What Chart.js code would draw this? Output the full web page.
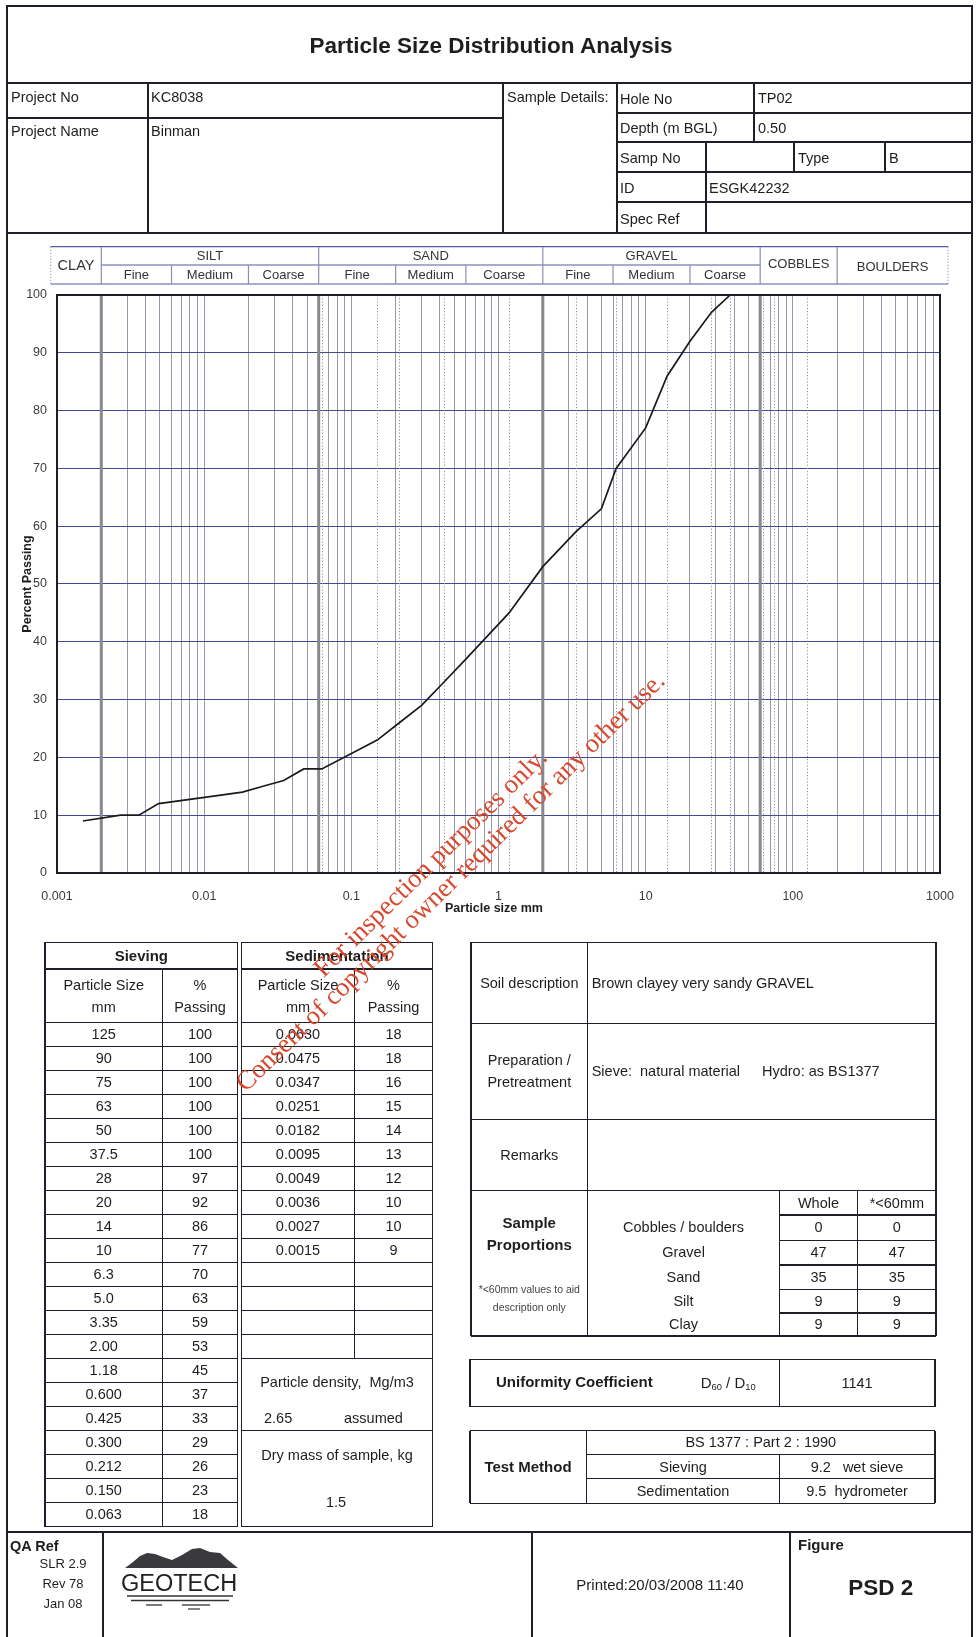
<!DOCTYPE html>
<html>
<head>
<meta charset="utf-8">
<title>Particle Size Distribution Analysis</title>
<script src="https://cdn.jsdelivr.net/npm/chart.js@4.4.1/dist/chart.umd.min.js"></script>
<style>
  html, body { margin: 0; padding: 0; background: #fff; }
  #page { position: relative; width: 977px; height: 1637px; overflow: hidden; background: #fff;
          font-family: "Liberation Sans", Arial, sans-serif; color: #1e1e1e; }
  .ln { position: absolute; }
  .tx { position: absolute; white-space: pre; }
  .tx sub { font-size: 0.62em; vertical-align: -0.25em; line-height: 0; }
  #psd { position: absolute; left: 0; top: 233px; }
  #art { position: absolute; left: 0; top: 0; }
  .wm { position: absolute; white-space: nowrap; text-align: center; color: #d8482e;
        font-family: "Liberation Serif", "Times New Roman", serif; transform-origin: 50% 50%; }
</style>
</head>
<body>
<div id="page">
  <canvas id="psd" width="977" height="700"></canvas>
  <svg id="art" width="977" height="1637"></svg>
</div>
<script>
// ---------- test results ----------
// Sieve analysis (BS 1377-2 cl. 9.2, wet sieve)
const sieveSize    = ['125','90','75','63','50','37.5','28','20','14','10','6.3','5.0','3.35','2.00','1.18','0.600','0.425','0.300','0.212','0.150','0.063'];
const sievePassing = [100, 100, 100, 100, 100, 100, 97, 92, 86, 77, 70, 63, 59, 53, 45, 37, 33, 29, 26, 23, 18];
// Sedimentation (BS 1377-2 cl. 9.5, hydrometer)
const sedSize    = ['0.0630','0.0475','0.0347','0.0251','0.0182','0.0095','0.0049','0.0036','0.0027','0.0015'];
const sedPassing = [18, 18, 16, 15, 14, 13, 12, 10, 10, 9];

// ---------- axes ----------
const xTickLabels = ['0.001','0.01','0.1','1','10','100','1000'];
const yTickStep = 10;

// ---------- soil fraction bands ----------
const mainBands    = ['SILT','SAND','GRAVEL'];
const mainEdges    = [0.002, 0.06, 2, 60];
const subBandNames = ['Fine','Medium','Coarse'];
const subEdges     = [0.002, 0.006, 0.02, 0.06, 0.2, 0.6, 2, 6, 20, 60];
const cobbleEdge   = 200;

// ---------- sample proportions (%) ----------
const fractionNames   = ['Cobbles / boulders','Gravel','Sand','Silt','Clay'];
const fractionWhole   = [0, 47, 35, 9, 9];
const fractionUnder60 = [0, 47, 35, 9, 9];

// ---------- page helpers ----------
const page = document.getElementById('page');
const INK = '#1d1f2b';

function hl(x1, x2, y, w, c) {
  w = w || 1.6;
  const d = document.createElement('div');
  d.className = 'ln';
  d.style.left = x1 + 'px'; d.style.top = (y - w / 2) + 'px';
  d.style.width = (x2 - x1) + 'px'; d.style.height = w + 'px';
  d.style.background = c || INK;
  page.appendChild(d);
}
function vl(x, y1, y2, w, c) {
  w = w || 1.6;
  const d = document.createElement('div');
  d.className = 'ln';
  d.style.left = (x - w / 2) + 'px'; d.style.top = y1 + 'px';
  d.style.width = w + 'px'; d.style.height = (y2 - y1) + 'px';
  d.style.background = c || INK;
  page.appendChild(d);
}
function rect(x1, y1, x2, y2, w) {
  hl(x1, x2, y1, w); hl(x1, x2, y2, w); vl(x1, y1, y2, w); vl(x2, y1, y2, w);
}
function tx(s, x, y, o) {
  o = o || {};
  const size = o.size || 14.5;
  const lh = Math.round(size * 1.3);
  const d = document.createElement('div');
  d.className = 'tx';
  if (o.html) d.innerHTML = s; else d.textContent = s;
  d.style.fontSize = size + 'px';
  d.style.lineHeight = lh + 'px';
  d.style.height = lh + 'px';
  d.style.top = (y - lh / 2) + 'px';
  if (o.bold) d.style.fontWeight = 'bold';
  if (o.color) d.style.color = o.color;
  const align = o.align || 'left';
  if (align === 'left') {
    d.style.left = x + 'px';
  } else if (align === 'center') {
    d.style.left = (x - 300) + 'px'; d.style.width = '600px'; d.style.textAlign = 'center';
  } else {
    d.style.left = (x - 600) + 'px'; d.style.width = '600px'; d.style.textAlign = 'right';
  }
  page.appendChild(d);
  return d;
}

// ---------- outer frame ----------
vl(7, 5, 1637, 2.6); vl(972, 5, 1637, 2.6); hl(6, 973, 6, 2.6);

// ---------- title block ----------
tx('Particle Size Distribution Analysis', 491, 45, { size: 22.5, bold: true, align: 'center' });
hl(7, 972, 83, 2); hl(7, 972, 233, 2);
vl(148, 83, 233); vl(503, 83, 233); vl(617, 83, 233);
hl(7, 503, 118);
[113, 142, 172, 202].forEach(y => hl(617, 972, y));
vl(754, 83, 142); vl(706, 142, 233); vl(794, 142, 172); vl(885, 142, 172);

tx('Project No', 11, 97);      tx('KC8038', 151, 97);
tx('Project Name', 11, 131);   tx('Binman', 151, 131);
tx('Sample Details:', 507, 97);
tx('Hole No', 620, 99);        tx('TP02', 758, 98);
tx('Depth (m BGL)', 620, 128); tx('0.50', 758, 128);
tx('Samp No', 620, 158);       tx('Type', 798, 158);  tx('B', 889, 158);
tx('ID', 620, 188);            tx('ESGK42232', 709, 188);
tx('Spec Ref', 620, 219);

// ---------- sieving / sedimentation tables ----------
const tTop = 942.3, tHead = 969, tSub = 1022.7, rowH = 24;
const tBot = tSub + sieveSize.length * rowH;
rect(45, tTop, 237.7, tBot);
hl(45, 237.7, tHead); hl(45, 237.7, tSub);
vl(162.3, tHead, tBot);
for (let i = 1; i < sieveSize.length; i++) hl(45, 237.7, tSub + i * rowH);
tx('Sieving', 141.3, 955.6, { bold: true, size: 15, align: 'center' });
tx('Particle Size', 103.7, 985, { align: 'center' });
tx('mm', 103.7, 1007, { align: 'center' });
tx('%', 200, 985, { align: 'center' });
tx('Passing', 200, 1007, { align: 'center' });
sieveSize.forEach((s, i) => {
  const yc = tSub + i * rowH + rowH / 2;
  tx(s, 103.7, yc, { align: 'center' });
  tx(String(sievePassing[i]), 200, yc, { align: 'center' });
});

const sedRows = 14;
const sedSplitBot = tSub + sedRows * rowH;
rect(241.7, tTop, 432.7, tBot);
hl(241.7, 432.7, tHead); hl(241.7, 432.7, tSub);
vl(354.3, tHead, sedSplitBot);
for (let i = 1; i <= sedRows; i++) hl(241.7, 432.7, tSub + i * rowH);
hl(241.7, 432.7, tSub + 17 * rowH);
tx('Sedimentation', 337, 955.6, { bold: true, size: 15, align: 'center' });
tx('Particle Size', 298, 985, { align: 'center' });
tx('mm', 298, 1007, { align: 'center' });
tx('%', 393.5, 985, { align: 'center' });
tx('Passing', 393.5, 1007, { align: 'center' });
sedSize.forEach((s, i) => {
  const yc = tSub + i * rowH + rowH / 2;
  tx(s, 298, yc, { align: 'center' });
  tx(String(sedPassing[i]), 393.5, yc, { align: 'center' });
});
tx('Particle density,  Mg/m3', 337, 1382, { align: 'center' });
tx('2.65', 264, 1418);
tx('assumed', 344, 1418);
tx('Dry mass of sample, kg', 337, 1455, { align: 'center' });
tx('1.5', 336, 1502, { align: 'center' });

// ---------- description / proportions ----------
rect(471, tTop, 936, 1336);
vl(587.7, tTop, 1336);
[1023.3, 1119.3, 1190.7].forEach(y => hl(471, 936, y));
vl(779.3, 1190.7, 1336); vl(857.7, 1190.7, 1336);
const propLines = [1215, 1240.7, 1265, 1289.7, 1313];
propLines.forEach(y => hl(779.3, 936, y));
tx('Soil description', 529.3, 983, { align: 'center' });
tx('Brown clayey very sandy GRAVEL', 591.7, 983);
tx('Preparation /', 529.3, 1060, { align: 'center' });
tx('Pretreatment', 529.3, 1082, { align: 'center' });
tx('Sieve:  natural material', 591.7, 1071);
tx('Hydro: as BS1377', 762, 1071);
tx('Remarks', 529.3, 1155, { align: 'center' });
tx('Sample', 529.3, 1222.5, { bold: true, size: 15, align: 'center' });
tx('Proportions', 529.3, 1245, { bold: true, size: 15, align: 'center' });
tx('*<60mm values to aid', 529.3, 1289, { size: 10.5, align: 'center', color: '#444' });
tx('description only', 529.3, 1306.5, { size: 10.5, align: 'center', color: '#444' });
tx('Whole', 818.5, 1203.3, { align: 'center' });
tx('*<60mm', 896.9, 1203.3, { align: 'center' });
const propRowC = [1227.8, 1252.8, 1277.3, 1301.3, 1324.5];
fractionNames.forEach((n, i) => {
  tx(n, 683.5, propRowC[i], { align: 'center' });
  tx(String(fractionWhole[i]), 818.5, propRowC[i], { align: 'center' });
  tx(String(fractionUnder60[i]), 896.9, propRowC[i], { align: 'center' });
});

// ---------- uniformity coefficient ----------
rect(470, 1359.3, 935, 1406.7);
vl(779.3, 1359.3, 1406.7);
tx('Uniformity Coefficient', 496, 1382, { bold: true, size: 15 });
tx('D<sub>60</sub> / D<sub>10</sub>', 700.7, 1383, { html: true, size: 15 });
tx('1141', 857, 1383, { align: 'center' });

// ---------- test method ----------
rect(470, 1430.7, 935, 1503.3);
vl(586.7, 1430.7, 1503.3);
hl(586.7, 935, 1454.3); hl(586.7, 935, 1478.3);
vl(779.3, 1454.3, 1503.3);
tx('Test Method', 528, 1467, { bold: true, size: 15, align: 'center' });
tx('BS 1377 : Part 2 : 1990', 760.8, 1442.5, { align: 'center' });
tx('Sieving', 683, 1467, { align: 'center' });
tx('9.2   wet sieve', 857, 1467, { align: 'center' });
tx('Sedimentation', 683, 1491, { align: 'center' });
tx('9.5  hydrometer', 857, 1491, { align: 'center' });

// ---------- footer ----------
hl(7, 972, 1532, 2);
vl(103, 1532, 1637); vl(532, 1532, 1637); vl(790, 1532, 1637);
tx('QA Ref', 10, 1546, { bold: true, size: 14.5 });
tx('SLR 2.9', 63, 1563, { size: 13, align: 'center' });
tx('Rev 78', 63, 1583, { size: 13, align: 'center' });
tx('Jan 08', 63, 1603, { size: 13, align: 'center' });
tx('GEOTECH', 121, 1583, { size: 23.5, color: '#222' });
tx('Printed:20/03/2008 11:40', 660, 1585, { size: 15, align: 'center' });
tx('Figure', 798, 1545, { bold: true, size: 15 });
tx('PSD 2', 880.7, 1587, { bold: true, size: 22.5, align: 'center' });

// logo artwork
const art = document.getElementById('art');
art.innerHTML =
  '<path d="M125,1568 L133,1562 L140,1556 L147,1553 L155,1554 L163,1557 L172,1560 L182,1555 L192,1549 L200,1548 L210,1552 L220,1553 L228,1560 L238,1568 Z" fill="#3a3a3e"/>' +
  '<line x1="127" y1="1596" x2="233" y2="1596" stroke="#333" stroke-width="1.4"/>' +
  '<line x1="131" y1="1600.5" x2="229" y2="1600.5" stroke="#333" stroke-width="1.4"/>' +
  '<line x1="146" y1="1605" x2="162" y2="1605" stroke="#333" stroke-width="1.3"/>' +
  '<line x1="182" y1="1605" x2="210" y2="1605" stroke="#333" stroke-width="1.3"/>' +
  '<line x1="188" y1="1609" x2="200" y2="1609" stroke="#333" stroke-width="1.2"/>';

// ---------- watermark ----------
function wm(s, cx, cy, size, ang) {
  const d = document.createElement('div');
  d.className = 'wm';
  d.textContent = s;
  d.style.fontSize = size + 'px';
  d.style.lineHeight = size + 'px';
  d.style.width = '700px';
  d.style.left = (cx - 350) + 'px';
  d.style.top = (cy - size / 2) + 'px';
  d.style.transform = 'rotate(' + ang + 'deg)';
  page.appendChild(d);
}

// ---------- grading curve ----------
const curve = sieveSize.map((s, i) => ({ x: Number(s), y: sievePassing[i] }))
  .concat(sedSize.map((s, i) => ({ x: Number(s), y: sedPassing[i] })))
  .sort((a, b) => a.x - b.x);

// log grid: every integer multiple of each decade
const gridValues = [];
for (let e = -3; e <= 2; e++) {
  for (let m = 1; m <= 9; m++) gridValues.push(Number((m * Math.pow(10, e)).toPrecision(6)));
}
gridValues.push(1000);

function isWholeMantissa(v) {
  const m = v / Math.pow(10, Math.floor(Math.log10(v) + 1e-9));
  return Math.abs(m - Math.round(m)) < 1e-6;
}

const FONT = '"Liberation Sans", Arial, sans-serif';
const OFF = 233; // canvas top on the page

const decor = {
  id: 'psdDecor',
  beforeDatasetsDraw(chart) {
    const { ctx, chartArea: a, scales: { x } } = chart;
    ctx.save();
    // dotted lines at the sieve apertures that fall between grid lines
    ctx.strokeStyle = '#8f919c';
    ctx.lineWidth = 1;
    ctx.setLineDash([1.2, 2]);
    sieveSize.forEach(s => {
      const v = Number(s);
      if (isWholeMantissa(v)) return;
      const p = Math.round(x.getPixelForValue(v)) + 0.5;
      ctx.beginPath(); ctx.moveTo(p, a.top); ctx.lineTo(p, a.bottom); ctx.stroke();
    });
    ctx.setLineDash([]);
    // fraction boundaries
    ctx.strokeStyle = '#86878f';
    ctx.lineWidth = 3;
    mainEdges.forEach(v => {
      const p = x.getPixelForValue(v);
      ctx.beginPath(); ctx.moveTo(p, a.top); ctx.lineTo(p, a.bottom); ctx.stroke();
    });
    ctx.restore();
  },
  afterDatasetsDraw(chart) {
    const { ctx, chartArea: a } = chart;
    ctx.save();
    ctx.strokeStyle = '#1c1d28';
    ctx.lineWidth = 2;
    ctx.strokeRect(a.left, a.top, a.right - a.left, a.bottom - a.top);
    ctx.restore();
  },
  afterDraw(chart) {
    const { ctx, chartArea: a, scales: { x } } = chart;
    const px = v => x.getPixelForValue(v);
    const L = 50.7, R = 948;
    const top = 246.7 - OFF, mid = 265 - OFF, bot = 284 - OFF;
    ctx.save();
    // band header frame
    ctx.strokeStyle = '#4f5da2';
    ctx.lineWidth = 1.2;
    const h = (x1, x2, y) => { ctx.beginPath(); ctx.moveTo(x1, y); ctx.lineTo(x2, y); ctx.stroke(); };
    const v = (xx, y1, y2) => { ctx.beginPath(); ctx.moveTo(xx, y1); ctx.lineTo(xx, y2); ctx.stroke(); };
    h(L, R, top); h(L, R, bot);
    h(px(mainEdges[0]), px(mainEdges[mainEdges.length - 1]), mid);
    ctx.strokeStyle = '#8a90ac';
    ctx.setLineDash([1, 2]);
    v(L, top, bot); v(R, top, bot);
    ctx.setLineDash([]);
    mainEdges.concat([cobbleEdge]).forEach(e => v(px(e), top, bot));
    subEdges.forEach(e => { if (mainEdges.indexOf(e) < 0) v(px(e), mid, bot); });

    ctx.fillStyle = '#333';
    ctx.textAlign = 'center';
    ctx.textBaseline = 'middle';
    ctx.font = '14.5px ' + FONT;
    ctx.fillText('CLAY', (L + px(mainEdges[0])) / 2, (top + bot) / 2 + 1);
    ctx.font = '13px ' + FONT;
    ctx.fillText('COBBLES', (px(60) + px(cobbleEdge)) / 2, (top + bot) / 2 - 0.5);
    ctx.fillText('BOULDERS', (px(cobbleEdge) + R) / 2, (top + bot) / 2 + 2);
    mainBands.forEach((n, i) => {
      ctx.fillText(n, (px(mainEdges[i]) + px(mainEdges[i + 1])) / 2, (top + mid) / 2 + 0.5);
    });
    for (let i = 0; i < subEdges.length - 1; i++) {
      ctx.fillText(subBandNames[i % 3], (px(subEdges[i]) + px(subEdges[i + 1])) / 2, (mid + bot) / 2 + 0.5);
    }

    // axis titles
    ctx.fillStyle = '#1e1e1e';
    ctx.font = 'bold 12.5px ' + FONT;
    ctx.fillText('Particle size mm', 494, 909 - OFF);
    ctx.translate(28, (a.top + a.bottom) / 2);
    ctx.rotate(-Math.PI / 2);
    ctx.fillText('Percent Passing', 0, 0);
    ctx.restore();
  }
};

new Chart(document.getElementById('psd'), {
  type: 'line',
  data: {
    datasets: [{
      data: curve,
      borderColor: '#1a1a1a',
      borderWidth: 1.7,
      pointRadius: 0,
      tension: 0,
      fill: false
    }]
  },
  options: {
    responsive: false,
    animation: false,
    events: [],
    layout: { padding: { left: 0, right: 37, top: 62, bottom: 0 } },
    plugins: { legend: { display: false }, tooltip: { enabled: false } },
    scales: {
      x: {
        type: 'logarithmic',
        min: 0.001,
        max: 1000,
        afterFit(s) { s.height = 60; },
        afterBuildTicks(s) { s.ticks = gridValues.map(val => ({ value: val })); },
        grid: { color: '#979aab', lineWidth: 1, drawTicks: false },
        border: { display: false },
        ticks: {
          autoSkip: false,
          maxRotation: 0,
          padding: 16,
          color: '#3c3c3c',
          font: { family: FONT, size: 12.5 },
          callback(val) {
            const lab = xTickLabels.find(t => Math.abs(Number(t) - val) < val * 1e-6);
            return lab || '';
          }
        }
      },
      y: {
        min: 0,
        max: 100,
        afterFit(s) { s.width = 57; },
        grid: { color: '#3f4c94', lineWidth: 1.1, drawTicks: false },
        border: { display: false },
        ticks: {
          stepSize: yTickStep,
          padding: 10,
          color: '#3c3c3c',
          font: { family: FONT, size: 12.5 }
        }
      }
    }
  },
  plugins: [decor]
});

// watermark lines
wm('For inspection purposes only.', 430.4, 862.6, 26.7, -44.3);
wm('Consent of copyright owner required for any other use.', 450.4, 881.6, 26.7, -44.3);
</script>
</body>
</html>
